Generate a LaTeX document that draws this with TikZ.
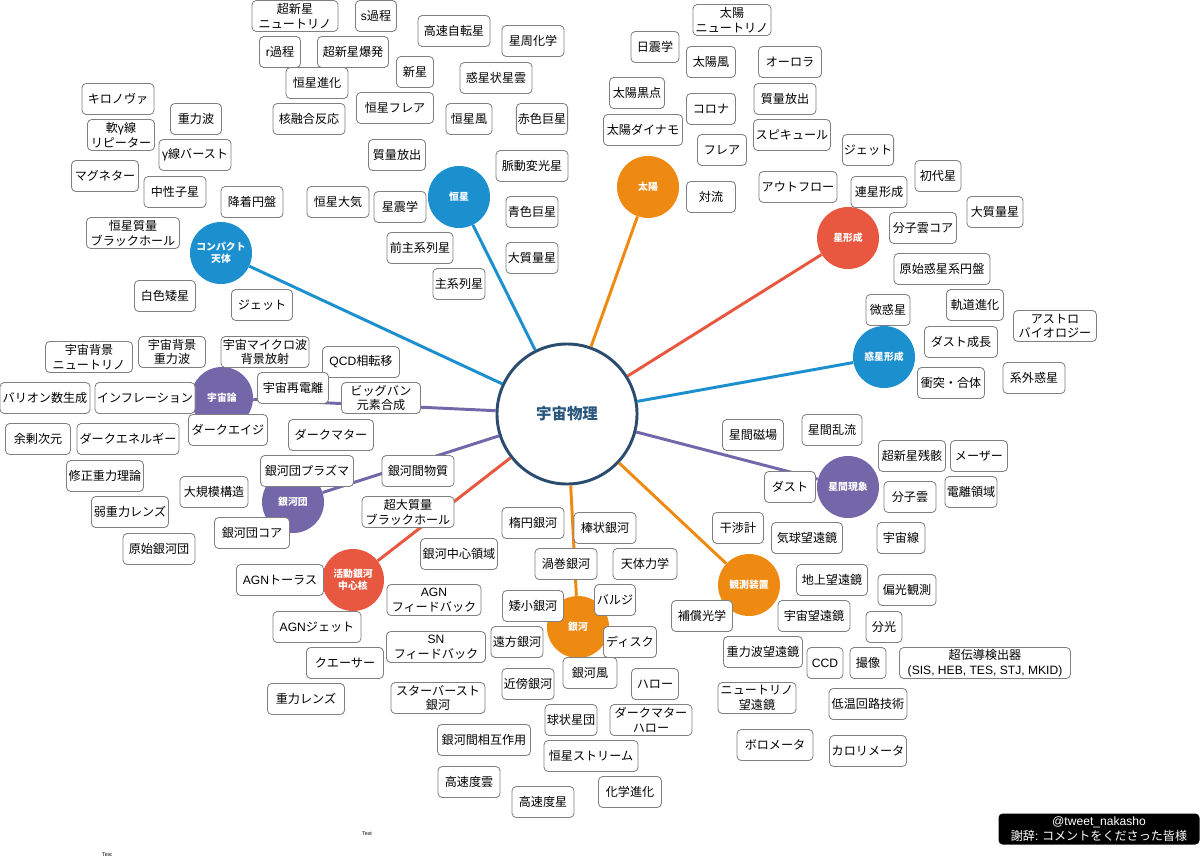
\documentclass[tikz,border=0pt]{standalone}
\usepackage{fontspec}
\setmainfont{Noto Sans CJK JP}
\newfontfamily\lat{Liberation Sans}
\usepackage{tikz}
\definecolor{cblue}{HTML}{1C8FCF}
\definecolor{corange}{HTML}{EE8A12}
\definecolor{cred}{HTML}{E8573F}
\definecolor{cpurple}{HTML}{7366A9}
\definecolor{chub}{HTML}{2B4C6F}
\definecolor{cedge}{HTML}{808080}

\begin{document}
\begin{tikzpicture}[x=0.025cm,y=-0.025cm, every node/.style={font=\fontsize{8.6pt}{10.5pt}\selectfont},
  hub/.style={circle,draw=chub,line width=2.1pt,fill=white,minimum size=3.5cm,inner sep=0pt,
    text=chub!85!cblue,font=\fontsize{11pt}{13pt}\selectfont\bfseries},
  topic/.style={circle,fill=#1,minimum size=1.55cm,inner sep=0pt,align=center,text=white,
    font=\fontsize{7pt}{8.6pt}\selectfont\bfseries},
  link/.style={draw=#1,line width=2.1pt},
  box/.style={draw=cedge,line width=0.6pt,fill=white,rounded corners=3pt,align=center,
    inner xsep=1pt,inner ysep=0.5pt,minimum height=0.775cm},
  bw/.style={minimum width=#1*0.025cm},
  credit/.style={fill=black,text=white,rounded corners=3pt,align=center,inner ysep=0.5pt,
    minimum width=201*0.025cm,minimum height=0.775cm},
  tinytext/.style={font=\fontsize{3.8pt}{4pt}\selectfont\lat}]
\useasboundingbox (0,0) rectangle (1200,860);

% topics
\node[hub] (root) at (567,414) {宇宙物理};
\node[topic=cblue] (star) at (459,197) {恒星};
\node[topic=corange] (sun) at (648,187) {太陽};
\node[topic=cred] (sf) at (848,238) {星形成};
\node[topic=cblue] (pf) at (884,357) {惑星形成};
\node[topic=cpurple] (ism) at (848,487) {星間現象};
\node[topic=corange] (obs) at (749,585) {観測装置};
\node[topic=corange] (gal) at (578,627) {銀河};
\node[topic=cred] (agn) at (353,580) {活動銀河\\中心核};
\node[topic=cpurple] (cl) at (293,502) {銀河団};
\node[topic=cpurple] (cos) at (222,398) {宇宙論};
\node[topic=cblue] (co) at (221,253) {コンパクト\\天体};
\draw[link=cblue] (root)--(star);
\draw[link=corange] (root)--(sun);
\draw[link=cred] (root)--(sf);
\draw[link=cblue] (root)--(pf);
\draw[link=cpurple] (root)--(ism);
\draw[link=corange] (root)--(obs);
\draw[link=corange] (root)--(gal);
\draw[link=cred] (root)--(agn);
\draw[link=cpurple] (root)--(cl);
\draw[link=cpurple] (root)--(cos);
\draw[link=cblue] (root)--(co);

% stars
\node[box,bw=86] (s1) at (295,16) {超新星\\ニュートリノ};
\node[box,bw=41] (s2) at (376,16) {{\lat s}過程};
\node[box,bw=41] (s3) at (280,52) {{\lat r}過程};
\node[box,bw=71] (s4) at (353,52) {超新星爆発};
\node[box,bw=62] (s5) at (317,83) {恒星進化};
\node[box,bw=72] (s6) at (309,119) {核融合反応};
\node[box,bw=77] (s7) at (395,108) {恒星フレア};
\node[box,bw=57] (s8) at (397,155) {質量放出};
\node[box,bw=62] (s9) at (338,202) {恒星大気};
\node[box,bw=52] (s10) at (400,207) {星震学};
\node[box,bw=66] (s11) at (420,248) {前主系列星};
\node[box,bw=72] (s12) at (454,31) {高速自転星};
\node[box,bw=62] (s13) at (533,41) {星周化学};
\node[box,bw=37] (s14) at (415,72) {新星};
\node[box,bw=72] (s15) at (496,78) {惑星状星雲};
\node[box,bw=46] (s16) at (469,119) {恒星風};
\node[box,bw=51] (s17) at (542,119) {赤色巨星};
\node[box,bw=72] (s18) at (532,166) {脈動変光星};
\node[box,bw=52] (s19) at (532,212) {青色巨星};
\node[box,bw=52] (s20) at (532,258) {大質量星};
\node[box,bw=52] (s21) at (459,284) {主系列星};

% compact objects
\node[box,bw=72] (c1) at (118,99) {キロノヴァ};
\node[box,bw=51] (c2) at (196,119) {重力波};
\node[box,bw=67] (c3) at (121,135) {軟{\lat γ}線\\リピーター};
\node[box,bw=72] (c4) at (195,155) {{\lat γ}線バースト};
\node[box,bw=67] (c5) at (105,176) {マグネター};
\node[box,bw=62] (c6) at (175,192) {中性子星};
\node[box,bw=62] (c7) at (252,202) {降着円盤};
\node[box,bw=93] (c8) at (133,233) {恒星質量\\ブラックホール};
\node[box,bw=61] (c9) at (165,296) {白色矮星};
\node[box,bw=61] (c10) at (262,305) {ジェット};

% sun
\node[box,bw=48] (u1) at (655,47) {日震学};
\node[box,bw=78] (u2) at (732,20) {太陽\\ニュートリノ};
\node[box,bw=49] (u3) at (711,62) {太陽風};
\node[box,bw=63] (u4) at (790,62) {オーロラ};
\node[box,bw=55] (u5) at (637,93) {太陽黒点};
\node[box,bw=49] (u6) at (711,109) {コロナ};
\node[box,bw=62] (u7) at (785,99) {質量放出};
\node[box,bw=79] (u8) at (643,130) {太陽ダイナモ};
\node[box,bw=77] (u9) at (792,135) {スピキュール};
\node[box,bw=49] (u10) at (722,150) {フレア};
\node[box,bw=49] (u11) at (711,197) {対流};
\node[box,bw=78] (u12) at (798,187) {アウトフロー};

% star formation
\node[box,bw=51] (f1) at (868,150) {ジェット};
\node[box,bw=46] (f2) at (938,176) {初代星};
\node[box,bw=56] (f3) at (879,192) {連星形成};
\node[box,bw=56] (f4) at (995,212) {大質量星};
\node[box,bw=67] (f5) at (923,228) {分子雲コア};
\node[box,bw=96] (f6) at (942,269) {原始惑星系円盤};

% planet formation
\node[box,bw=44] (p1) at (888,310) {微惑星};
\node[box,bw=57] (p2) at (975,305) {軌道進化};
\node[box,bw=83] (p3) at (1055,326) {アストロ\\バイオロジー};
\node[box,bw=73] (p4) at (961,342) {ダスト成長};
\node[box,bw=67] (p5) at (951,383) {衝突・合体};
\node[box,bw=62] (p6) at (1034,378) {系外惑星};

% interstellar
\node[box,bw=61] (i1) at (753,435) {星間磁場};
\node[box,bw=60] (i2) at (832,430) {星間乱流};
\node[box,bw=51] (i3) at (790,487) {ダスト};
\node[box,bw=67] (i4) at (912,456) {超新星残骸};
\node[box,bw=57] (i5) at (979,456) {メーザー};
\node[box,bw=52] (i6) at (910,497) {分子雲};
\node[box,bw=52] (i7) at (971,492) {電離領域};
\node[box,bw=48] (i8) at (901,538) {宇宙線};

% instruments
\node[box,bw=51] (o1) at (738,528) {干渉計};
\node[box,bw=71] (o2) at (807,538) {気球望遠鏡};
\node[box,bw=71] (o3) at (832,580) {地上望遠鏡};
\node[box,bw=58] (o4) at (907,590) {偏光観測};
\node[box,bw=61] (o5) at (702,616) {補償光学};
\node[box,bw=72] (o6) at (814,616) {宇宙望遠鏡};
\node[box,bw=36] (o7) at (884,627) {分光};
\node[box,bw=79] (o8) at (763,652) {重力波望遠鏡};
\node[box,bw=36] (o9) at (825,663) {\lat CCD};
\node[box,bw=36] (o10) at (868,663) {撮像};
\node[box,bw=171] (o11) at (985,663) {超伝導検出器\\{\lat (SIS, HEB, TES, STJ, MKID)}};
\node[box,bw=78] (o12) at (757,698) {ニュートリノ\\望遠鏡};
\node[box,bw=78] (o13) at (868,704) {低温回路技術};
\node[box,bw=76] (o14) at (775,745) {ボロメータ};
\node[box,bw=77] (o15) at (868,751) {カロリメータ};

% galaxies
\node[box,bw=62] (g1) at (533,523) {楕円銀河};
\node[box,bw=62] (g2) at (605,528) {棒状銀河};
\node[box,bw=62] (g3) at (566,564) {渦巻銀河};
\node[box,bw=64] (g4) at (645,564) {天体力学};
\node[box,bw=61] (g5) at (533,606) {矮小銀河};
\node[box,bw=41] (g6) at (615,600) {バルジ};
\node[box,bw=52] (g7) at (517,642) {遠方銀河};
\node[box,bw=53] (g8) at (630,642) {ディスク};
\node[box,bw=54] (g9) at (590,673) {銀河風};
\node[box,bw=52] (g10) at (528,684) {近傍銀河};
\node[box,bw=47] (g11) at (655,684) {ハロー};
\node[box,bw=52] (g12) at (571,720) {球状星団};
\node[box,bw=82] (g13) at (651,720) {ダークマター\\ハロー};
\node[box,bw=93] (g14) at (484,740) {銀河間相互作用};
\node[box,bw=94] (g15) at (591,756) {恒星ストリーム};
\node[box,bw=62] (g16) at (469,782) {高速度雲};
\node[box,bw=63] (g17) at (630,792) {化学進化};
\node[box,bw=62] (g18) at (543,802) {高速度星};

% active galactic nuclei
\node[box,bw=92] (a1) at (408,512) {超大質量\\ブラックホール};
\node[box,bw=77] (a2) at (459,554) {銀河中心領域};
\node[box,bw=87] (a3) at (280,580) {{\lat AGN}トーラス};
\node[box,bw=94] (a4) at (434,600) {{\lat AGN}\\フィードバック};
\node[box,bw=88] (a5) at (317,627) {{\lat AGN}ジェット};
\node[box,bw=99] (a6) at (436,647) {{\lat SN}\\フィードバック};
\node[box,bw=77] (a7) at (345,663) {クエーサー};
\node[box,bw=94] (a8) at (438,698) {スターバースト\\銀河};
\node[box,bw=77] (a9) at (306,699) {重力レンズ};

% clusters
\node[box,bw=72] (k1) at (418,471) {銀河間物質};
\node[box,bw=93] (k2) at (307,471) {銀河団プラズマ};
\node[box,bw=68] (k3) at (214,492) {大規模構造};
\node[box,bw=75] (k4) at (252,533) {銀河団コア};
\node[box,bw=77] (k5) at (130,512) {弱重力レンズ};
\node[box,bw=72] (k6) at (159,549) {原始銀河団};
\node[box,bw=77] (k7) at (105,476) {修正重力理論};
\node[box,bw=85] (k8) at (331,435) {ダークマター};

% cosmology
\node[box,bw=87] (m1) at (89,357) {宇宙背景\\ニュートリノ};
\node[box,bw=67] (m2) at (172,352) {宇宙背景\\重力波};
\node[box,bw=88] (m3) at (265,352) {宇宙マイクロ波\\背景放射};
\node[box,bw=77] (m4) at (361,362) {{\lat QCD}相転移};
\node[box,bw=71] (m5) at (293,388) {宇宙再電離};
\node[box,bw=79] (m6) at (381,398) {ビッグバン\\元素合成};
\node[box,bw=90] (m7) at (45,398) {バリオン数生成};
\node[box,bw=100] (m8) at (145,398) {インフレーション};
\node[box,bw=65] (m9) at (38,439) {余剰次元};
\node[box,bw=102] (m10) at (128,439) {ダークエネルギー};
\node[box,bw=79] (m11) at (228,430) {ダークエイジ};

\node[credit] (thanks) at (1099,829) {{\lat @tweet\_nakasho}\\謝辞{\lat :} コメントをくださった皆様};
\node[tinytext] (t1) at (367,834) {Text};
\node[tinytext] (t2) at (107,855) {Text};
\end{tikzpicture}
\end{document}
